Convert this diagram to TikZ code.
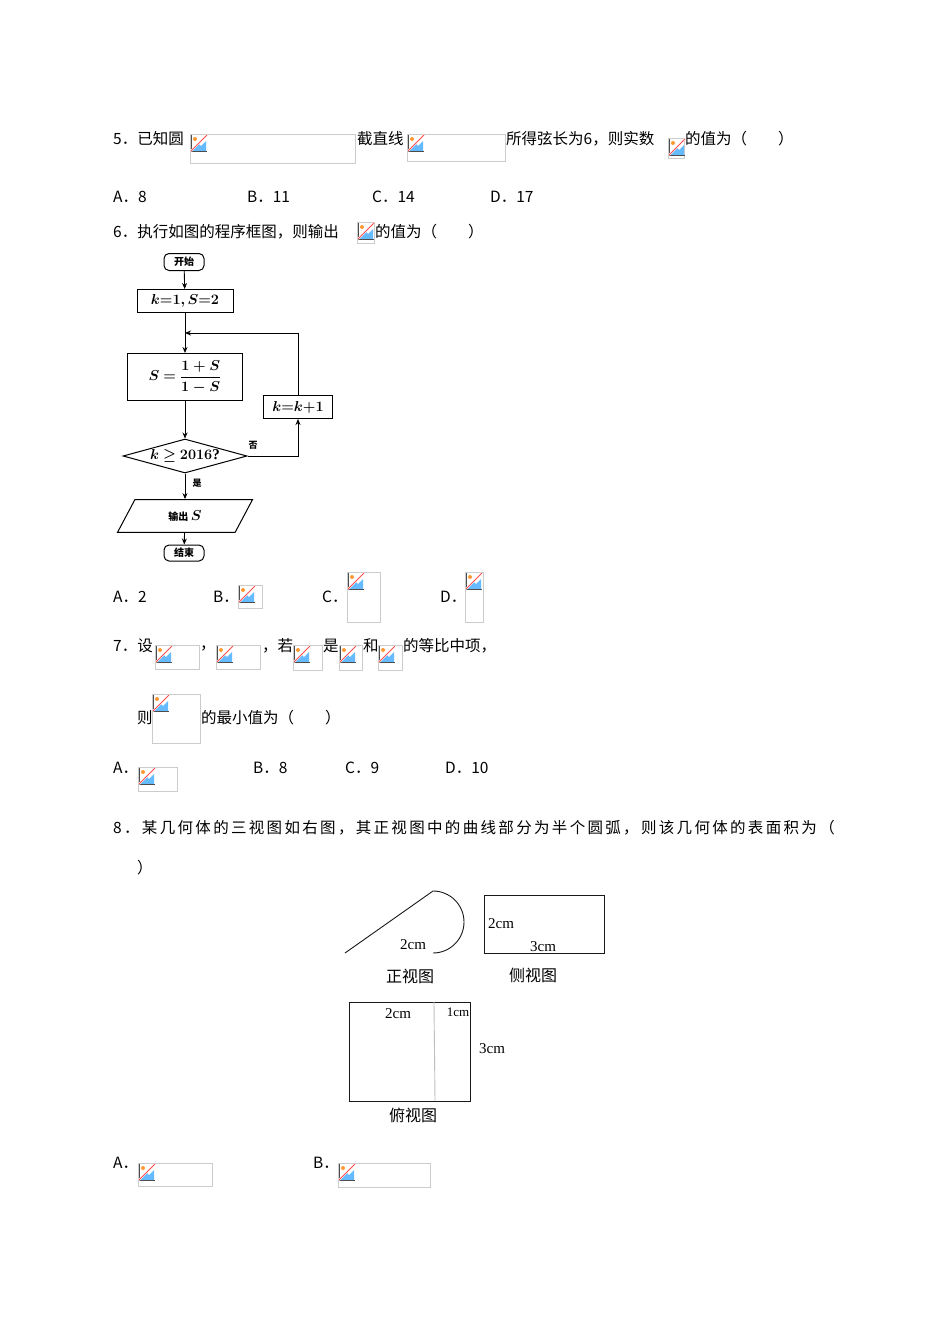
\documentclass[tikz,border=0pt]{standalone}
\usepackage{amsmath,bm}
\usepackage{fontspec}
\setmainfont{Liberation Serif}
\newfontfamily\cjk{Noto Sans CJK SC}
\usetikzlibrary{shapes.geometric,arrows.meta}
\newcommand\brokenimg[2]{%
  \fill[blue!45!cyan!60] (#1+2,#2+17)--(#1+8,#2+9)--(#1+11,#2+12)--(#1+16,#2+7)--(#1+16,#2+17)--cycle;
  \fill[orange!80] (#1+5,#2+5) circle (2);
  \draw[gray!60!black,line width=1] (#1+1,#2+1)--(#1+1,#2+17)--(#1+17,#2+17);
  \draw[white,line width=2] (#1+1,#2+17)--(#1+17,#2+1);
  \draw[red!70,line width=0.8] (#1+1,#2+17)--(#1+17,#2+1);
}
\newcommand\phbox[4]{%
  \draw[gray!40,line width=0.8] (#1,#2) rectangle (#3,#4);
  \brokenimg{#1}{#2}}
\begin{document}
\begin{tikzpicture}[x=1pt,y=-1pt,
  txt/.style={anchor=west,inner sep=0,font=\cjk\fontsize{15.5}{16}\selectfont},
  fc/.style={draw,line width=1,inner sep=2pt,font=\bfseries\fontsize{15}{16}\selectfont},
  arr/.style={-{Stealth[length=6,width=5]},line width=0.9},
  lbl/.style={inner sep=0,font=\fontsize{15}{15}\selectfont}]
\useasboundingbox[fill=white] (0,0) rectangle (950,1344);
% Q5
\node[txt] (q5a) at (113,139) {5．已知圆};
\phbox{190}{134}{355}{163}
\node[txt] (q5b) at (357,139) {截直线};
\phbox{407}{134}{505}{161}
\node[txt] (q5c) at (506,139) {所得弦长为6，则实数};
\phbox{668}{138}{684}{158}
\node[txt] (q5d) at (685,139) {的值为（　　）};
\node[txt] at (113,197) {A．8};
\node[txt] at (247,197) {B．11};
\node[txt] at (372,197) {C．14};
\node[txt] at (490,197) {D．17};
% Q6
\node[txt] at (113,232) {6．执行如图的程序框图，则输出};
\phbox{357}{222}{374}{243}
\node[txt] at (375,232) {的值为（　　）};
% flowchart
\node[fc,rounded corners=5,minimum width=40,minimum height=17,inner sep=0] (st) at (184,262) {\cjk\bfseries\fontsize{10}{10}\selectfont 开始};
\node[fc,minimum width=96,minimum height=23] (init) at (185,301) {$\bm{k{=}1,S{=}2}$};
\node[fc,minimum width=115,minimum height=47] (upd) at (185,377) {$\bm{S=\dfrac{1+S}{1-S}}$};
\node[fc,diamond,aspect=3.8,minimum width=124,minimum height=34,inner sep=0] (cond) at (185,456) {$\bm{k\ge 2016}$\textbf{?}};
\node[fc,trapezium,trapezium left angle=62,trapezium right angle=118,minimum width=136,minimum height=23,inner sep=0] (out) at (185,516) {\cjk\bfseries\fontsize{10}{10}\selectfont 输出\ \fontsize{15}{15}$\bm{S}$};
\node[fc,rounded corners=5,minimum width=40,minimum height=16,inner sep=0] (en) at (184,553) {\cjk\bfseries\fontsize{10}{10}\selectfont 结束};
\node[fc,minimum width=69,minimum height=23] (inc) at (298,407) {$\bm{k{=}k{+}1}$};
\coordinate (jn) at (185,333);
\draw[arr] (st) -- (init);
\draw[arr] (init) -- (upd);
\draw[arr] (upd) -- (cond);
\draw[arr] (cond) -- (out);
\draw[arr] (out) -- (en);
\draw[arr] (cond.east) -| (inc.south);
\draw[arr] (inc.north) |- (jn);
\node[inner sep=0,font=\cjk\bfseries\fontsize{9}{9}\selectfont] at (253,445) {否};
\node[inner sep=0,font=\cjk\bfseries\fontsize{9}{9}\selectfont] at (197,483) {是};
% Q6 options
\node[txt] at (113,597) {A．2};
\node[txt] at (213,597) {B．};
\phbox{238}{585}{262}{608}
\node[txt] at (322,597) {C．};
\phbox{347}{572}{380}{622}
\node[txt] at (440,597) {D．};
\phbox{465}{572}{483}{622}
% Q7
\node[txt] at (113,646) {7．设};
\phbox{155}{645}{199}{669}
\node[txt] at (200,648) {，};
\phbox{216}{645}{260}{669}
\node[txt] at (262,646) {，若};
\phbox{293}{645}{322}{670}
\node[txt] at (323,646) {是};
\phbox{339}{645}{362}{670}
\node[txt] at (363,646) {和};
\phbox{378}{645}{402}{670}
\node[txt] at (403,646) {的等比中项，};
\node[txt] at (137,718) {则};
\phbox{152}{694}{200}{743}
\node[txt] at (201,718) {的最小值为（　　）};
\node[txt] at (113,768) {A．};
\phbox{138}{767}{177}{791}
\node[txt] at (253,768) {B．8};
\node[txt] at (345,768) {C．9};
\node[txt] at (445,768) {D．10};
% Q8
\node[txt] at (113,828) {\addfontfeature{LetterSpace=15}8．某几何体的三视图如右图，其正视图中的曲线部分为半个圆弧，则该几何体的表面积为（};
\node[txt] at (137,868) {）};
% three views
\draw[line width=0.9,gray!20!black] (345,953) -- (433,891) arc[start angle=-90,end angle=90,radius=31];
\node[lbl] at (413,945) {2cm};
\node[lbl,font=\cjk\fontsize{16}{16}\selectfont] at (410,976) {正视图};
\draw[line width=0.9,gray!20!black] (484,895) rectangle (604,953);
\node[lbl] at (501,924) {2cm};
\node[lbl] at (543,947) {3cm};
\node[lbl,font=\cjk\fontsize{16}{16}\selectfont] at (533,975) {侧视图};
\draw[line width=0.9,gray!20!black] (349,1002) rectangle (470,1101);
\draw[line width=0.9,gray!50] (434,1002) -- (435,1101);
\node[lbl] at (398,1014) {2cm};
\node[lbl,font=\fontsize{13}{13}\selectfont] at (458,1012) {1cm};
\node[lbl] at (492,1049) {3cm};
\node[lbl,font=\cjk\fontsize{16}{16}\selectfont] at (413,1115) {俯视图};
\node[txt] at (113,1163) {A．};
\phbox{138}{1163}{212}{1186}
\node[txt] at (313,1163) {B．};
\phbox{338}{1163}{430}{1187}
\end{tikzpicture}
\end{document}
